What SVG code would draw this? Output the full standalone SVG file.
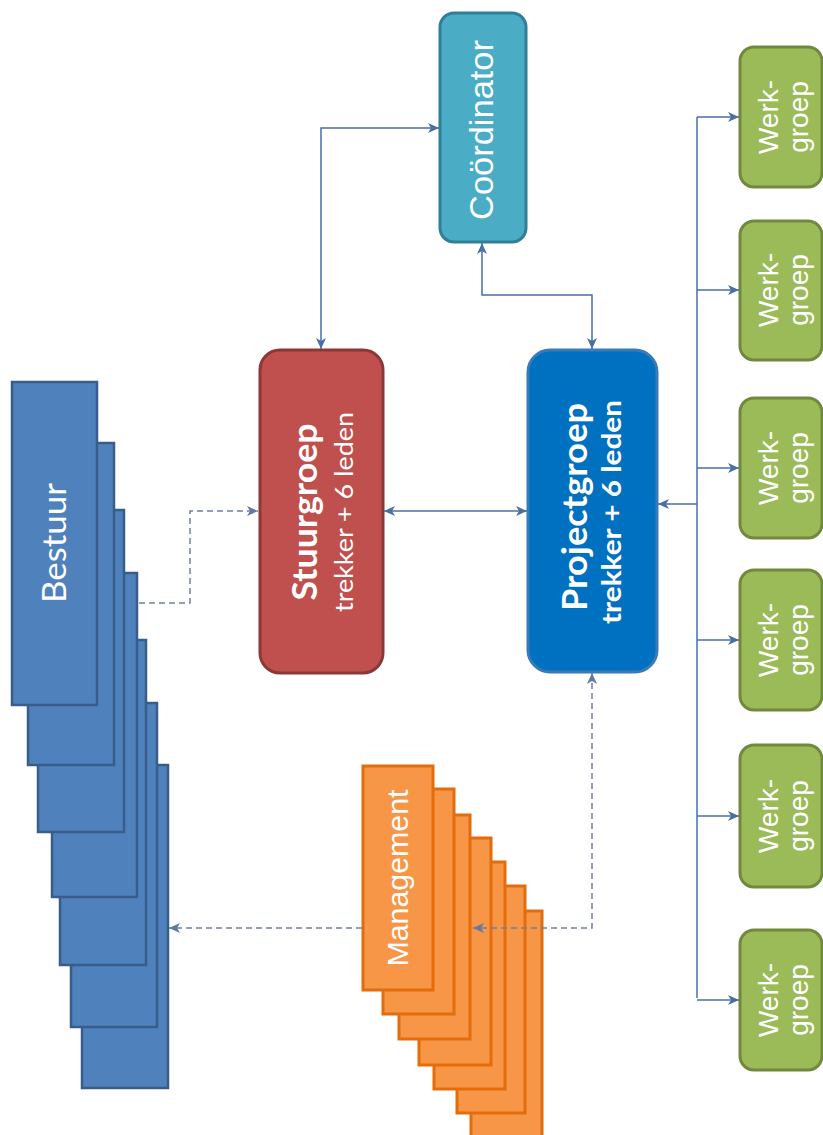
<svg xmlns="http://www.w3.org/2000/svg" width="823" height="1135" viewBox="0 0 823 1135">
<style>
.bst{fill:#4F81BD;stroke:#385D8A;stroke-width:2.5}
.mgt{fill:#F79646;stroke:#E46C0A;stroke-width:3}
.wg{fill:#9BBB59;stroke:#71893F;stroke-width:3}
.t{fill:#FFFFFF;text-anchor:middle}
.arial{font-family:'Liberation Sans',Arial,sans-serif}
.lato{font-family:Lato,'Open Sans',sans-serif}
.ln{fill:none;stroke:#4A6FA5;stroke-width:1.5}
.dl{fill:none;stroke:#7080A0;stroke-width:1.5;stroke-dasharray:6 4}
</style>
<defs>
<marker id="ah" viewBox="0 0 11 10" refX="11" refY="5" markerWidth="11" markerHeight="10" markerUnits="userSpaceOnUse" orient="auto-start-reverse">
<path d="M0,0 L11,5 L0,10 L3,5 Z" fill="#4A6FA5"/>
</marker>
<marker id="ahd" viewBox="0 0 11 10" refX="11" refY="5" markerWidth="11" markerHeight="10" markerUnits="userSpaceOnUse" orient="auto-start-reverse">
<path d="M0,0 L11,5 L0,10 L3,5 Z" fill="#6478A0"/>
</marker>
</defs>
<rect width="823" height="1135" fill="#FFFFFF"/>

<g id="bestuur">
<rect class="bst" x="82" y="765" width="86" height="323"/>
<rect class="bst" x="71" y="703" width="86" height="324"/>
<rect class="bst" x="60" y="640" width="86" height="325"/>
<rect class="bst" x="52" y="573" width="85" height="324"/>
<rect class="bst" x="38" y="510" width="86" height="322"/>
<rect class="bst" x="28" y="443" width="86" height="322"/>
<rect class="bst" x="12" y="382" width="85" height="323"/>
<text class="t lato" transform="translate(66,543) rotate(-90)" font-size="32" textLength="120" lengthAdjust="spacingAndGlyphs">Bestuur</text>
</g>

<g id="management">
<rect class="mgt" x="471" y="911" width="71" height="230"/>
<rect class="mgt" x="457" y="886" width="68" height="227"/>
<rect class="mgt" x="434" y="862" width="71" height="227"/>
<rect class="mgt" x="419" y="838" width="72" height="227"/>
<rect class="mgt" x="399" y="815" width="71" height="224"/>
<rect class="mgt" x="383" y="789" width="71" height="225"/>
<rect class="mgt" x="363" y="766" width="70" height="224"/>
<text class="t arial" transform="translate(408,878) rotate(-90)" font-size="30" textLength="177" lengthAdjust="spacingAndGlyphs">Management</text>
</g>

<g id="coordinator">
<rect x="440" y="13" width="86" height="229" rx="14" fill="#4BACC6" stroke="#2F7F96" stroke-width="3"/>
<text class="t arial" transform="translate(493,130) rotate(-90)" font-size="34" fill="#EEF7FA" textLength="180" lengthAdjust="spacingAndGlyphs">Coördinator</text>
</g>

<g id="stuurgroep">
<rect x="260" y="350" width="123" height="323" rx="20" fill="#C0504D" stroke="#8C3836" stroke-width="3"/>
<text class="t lato" transform="translate(317,512) rotate(-90)" font-size="34" font-weight="700" textLength="177" lengthAdjust="spacingAndGlyphs">Stuurgroep</text>
<text class="t lato" transform="translate(353,512) rotate(-90)" font-size="25" textLength="200" lengthAdjust="spacingAndGlyphs">trekker + 6 leden</text>
</g>

<g id="projectgroep">
<rect x="528" y="350" width="129" height="322" rx="22" fill="#0070C0" stroke="#3A7AB8" stroke-width="3"/>
<text class="t lato" transform="translate(587,507) rotate(-90)" font-size="34" font-weight="700" textLength="208" lengthAdjust="spacingAndGlyphs">Projectgroep</text>
<text class="t lato" transform="translate(621,512) rotate(-90)" font-size="26" font-weight="700" textLength="224" lengthAdjust="spacingAndGlyphs">trekker + 6 leden</text>
</g>

<g id="werkgroep1">
<rect class="wg" x="740" y="47" width="82" height="140" rx="14"/>
<text class="t arial" transform="translate(778,117) rotate(-90)" font-size="28">Werk-</text>
<text class="t arial" transform="translate(808,117) rotate(-90)" font-size="28">groep</text>
</g>
<g id="werkgroep2">
<rect class="wg" x="740" y="221" width="82" height="139" rx="14"/>
<text class="t arial" transform="translate(778,290) rotate(-90)" font-size="28">Werk-</text>
<text class="t arial" transform="translate(808,290) rotate(-90)" font-size="28">groep</text>
</g>
<g id="werkgroep3">
<rect class="wg" x="740" y="398" width="82" height="140" rx="14"/>
<text class="t arial" transform="translate(778,468) rotate(-90)" font-size="28">Werk-</text>
<text class="t arial" transform="translate(808,468) rotate(-90)" font-size="28">groep</text>
</g>
<g id="werkgroep4">
<rect class="wg" x="740" y="570" width="82" height="140" rx="14"/>
<text class="t arial" transform="translate(778,640) rotate(-90)" font-size="28">Werk-</text>
<text class="t arial" transform="translate(808,640) rotate(-90)" font-size="28">groep</text>
</g>
<g id="werkgroep5">
<rect class="wg" x="740" y="745" width="82" height="142" rx="14"/>
<text class="t arial" transform="translate(778,816) rotate(-90)" font-size="28">Werk-</text>
<text class="t arial" transform="translate(808,816) rotate(-90)" font-size="28">groep</text>
</g>
<g id="werkgroep6">
<rect class="wg" x="740" y="930" width="82" height="140" rx="14"/>
<text class="t arial" transform="translate(778,1000) rotate(-90)" font-size="28">Werk-</text>
<text class="t arial" transform="translate(808,1000) rotate(-90)" font-size="28">groep</text>
</g>

<g id="connectors">
<path class="ln" d="M321,349 V128 H439" marker-start="url(#ah)" marker-end="url(#ah)"/>
<path class="ln" d="M482,243 V295 H592 V349" marker-start="url(#ah)" marker-end="url(#ah)"/>
<path class="ln" d="M384,511 H527" marker-start="url(#ah)" marker-end="url(#ah)"/>
<path class="dl" d="M139,603 H190 V511 H258" marker-end="url(#ahd)"/>
<path class="dl" d="M592,673 V928 H473" marker-start="url(#ahd)" marker-end="url(#ahd)"/>
<path class="dl" d="M362,928 H169" marker-end="url(#ahd)"/>
<path class="ln" d="M697,117 V504"/>
<path class="ln" d="M697,504 V998" stroke-width="2.2"/>
<path class="ln" d="M697,504 H658" marker-end="url(#ah)"/>
<path class="ln" d="M697,117 H739" marker-end="url(#ah)"/>
<path class="ln" d="M697,290 H739" marker-end="url(#ah)"/>
<path class="ln" d="M697,468 H739" marker-end="url(#ah)"/>
<path class="ln" d="M697,640 H739" marker-end="url(#ah)"/>
<path class="ln" d="M697,816 H739" marker-end="url(#ah)"/>
<path class="ln" d="M697,1000 H739" marker-end="url(#ah)"/>
</g>
</svg>
